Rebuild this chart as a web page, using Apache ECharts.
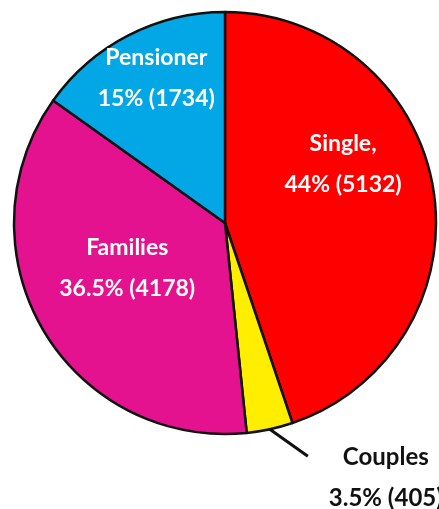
<!DOCTYPE html>
<html>
<head>
<meta charset="utf-8">
<script src="https://cdn.jsdelivr.net/npm/echarts@6/dist/echarts.min.js"></script>
<style>
	html, body { margin: 0; padding: 0; background: #ffffff; }
	#chart { width: 439px; height: 509px; }
</style>
</head>
<body>
<div id="chart"></div>
<script>
var categories = ['Single,', 'Couples', 'Families', 'Pensioner'];
var counts = [5132, 405, 4178, 1734];
var percentLabels = ['44%', '3.5%', '36.5%', '15%'];
var sliceColors = ['#ff0000', '#ffee00', '#e5128f', '#04a7e6'];

// inside label nudges, so the text sits where the original has it
var labelOffsets = [[11, -41], null, [-4, -10], [-19, -48]];

var chart = echarts.init(document.getElementById('chart'));

var pieData = [];
for (var i = 0; i < categories.length; i++) {
	var item = {
		name: categories[i],
		value: counts[i],
		itemStyle: { color: sliceColors[i] }
	};
	if (labelOffsets[i]) {
		item.label = { position: 'inside', offset: labelOffsets[i] };
	} else {
		item.label = {
			position: 'outside',
			color: '#111111',
			fontSize: 24,
			align: 'center'
		};
		item.labelLine = {
			show: true,
			lineStyle: { color: '#111111', width: 3 }
		};
	}
	pieData.push(item);
}

chart.setOption({
	animation: false,
	series: [
		{
			type: 'pie',
			center: [225, 223],
			radius: 211,
			startAngle: 90,
			clockwise: true,
			avoidLabelOverlap: false,
			itemStyle: {
				borderColor: '#111111',
				borderWidth: 2.5
			},
			label: {
				show: true,
				color: '#ffffff',
				fontFamily: 'Lato',
				fontWeight: 'bold',
				fontSize: 23,
				lineHeight: 41,
				align: 'center',
				formatter: function (p) {
					return p.name + '\n' + percentLabels[p.dataIndex] + ' (' + p.value + ')';
				}
			},
			labelLine: { show: false },
			labelLayout: function (params) {
				if (params.dataIndex !== 1 || !params.labelLinePoints) return;
				var p = params.labelLinePoints[0];
				var end = [p[0] + 38, p[1] + 27];
				return {
					x: p[0] + 116,
					y: p[1] + 49,
					align: 'center',
					verticalAlign: 'middle',
					labelLinePoints: [p, end, end]
				};
			},
			data: pieData
		}
	]
});
</script>
</body>
</html>
